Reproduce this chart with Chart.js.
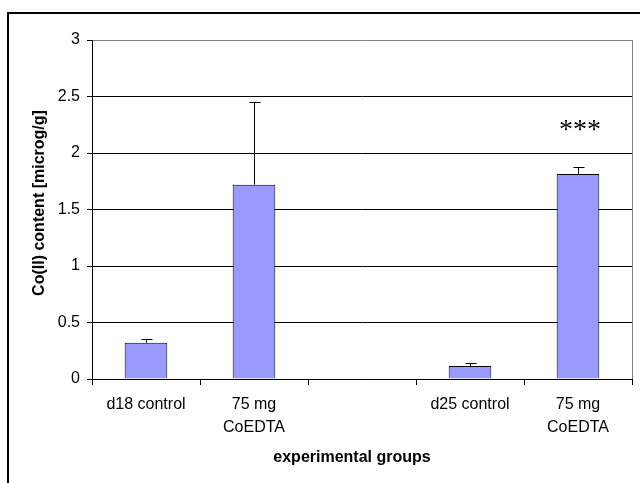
<!DOCTYPE html>
<html>
<head>
<meta charset="utf-8">
<script src="https://cdn.jsdelivr.net/npm/chart.js@4.4.1/dist/chart.umd.min.js"></script>
<style>
  html, body { margin: 0; padding: 0; background: #fff; }
  #wrap { position: relative; width: 640px; height: 483px; }
</style>
</head>
<body>
<div id="wrap"><canvas id="chart" width="640" height="483"></canvas></div>
<script>
  const categories = ["d18 control", ["75 mg", "CoEDTA"], "", "d25 control", ["75 mg", "CoEDTA"]];
  const means = [0.32, 1.72, null, 0.115, 1.815];
  const errors = [0.033, 0.73, null, 0.025, 0.06];
  const marks = ["", "", "", "", "***"];
  const markLevel = 2.2;
  const yTicks = [0, 0.5, 1, 1.5, 2, 2.5, 3];

  const FONT = "'Liberation Sans', Arial, sans-serif";

  const extras = {
    id: "extras",
    afterDatasetsDraw(chart) {
      const ctx = chart.ctx;
      const y = chart.scales.y;
      const meta = chart.getDatasetMeta(0);
      ctx.save();
      ctx.strokeStyle = "#000";
      ctx.lineWidth = 1;
      meta.data.forEach((bar, i) => {
        if (means[i] == null) {
          return;
        }
        const x = Math.round(bar.x) + 0.5;
        const y0 = y.getPixelForValue(means[i]);
        const y1 = Math.round(y.getPixelForValue(means[i] + errors[i])) + 0.5;
        ctx.beginPath();
        ctx.moveTo(x, y0);
        ctx.lineTo(x, y1);
        ctx.moveTo(x - 5, y1);
        ctx.lineTo(x + 6, y1);
        ctx.stroke();
        if (marks[i]) {
          ctx.fillStyle = "#000";
          ctx.font = "28px 'Liberation Serif', 'Times New Roman', serif";
          ctx.textAlign = "center";
          ctx.textBaseline = "middle";
          ctx.fillText(marks[i], bar.x + 2, y.getPixelForValue(markLevel));
        }
      });
      ctx.restore();
    },
    afterDraw(chart) {
      const ctx = chart.ctx;
      const a = chart.chartArea;
      ctx.save();
      // plot area edge on the right
      ctx.strokeStyle = "#808080";
      ctx.lineWidth = 1;
      ctx.beginPath();
      ctx.moveTo(Math.round(a.right) + 0.5, a.top);
      ctx.lineTo(Math.round(a.right) + 0.5, a.bottom);
      ctx.stroke();
      // outer chart frame
      ctx.strokeStyle = "#000";
      ctx.lineWidth = 2;
      ctx.beginPath();
      ctx.moveTo(8, 483);
      ctx.lineTo(8, 13);
      ctx.lineTo(640, 13);
      ctx.stroke();
      // axis titles
      ctx.fillStyle = "#000";
      ctx.font = "bold 16px " + FONT;
      ctx.textAlign = "center";
      ctx.textBaseline = "middle";
      ctx.fillText("experimental groups", 352, 458);
      ctx.translate(40, 203);
      ctx.rotate(-Math.PI / 2);
      ctx.fillText("Co(II) content [microg/g]", 0, 0);
      ctx.restore();
    }
  };

  new Chart(document.getElementById("chart"), {
    type: "bar",
    data: {
      labels: categories,
      datasets: [
        {
          data: means,
          backgroundColor: "#9999ff",
          borderColor: "#000",
          borderWidth: 1,
          barPercentage: 0.395,
          categoryPercentage: 1,
        },
      ],
    },
    options: {
      responsive: false,
      animation: false,
      layout: { padding: { left: 0, top: 40, right: 8, bottom: 0 } },
      plugins: {
        legend: { display: false },
        tooltip: { enabled: false },
      },
      scales: {
        x: {
          afterFit: (scale) => { scale.height = 104; },
          grid: {
            offset: true,
            drawOnChartArea: false,
            drawTicks: true,
            tickLength: 6,
            color: "#000",
          },
          border: { color: "#000", width: 1 },
          ticks: {
            color: "#000",
            padding: 8,
            maxRotation: 0,
            autoSkip: false,
            font: { family: FONT, size: 16, lineHeight: 1.44 },
          },
        },
        y: {
          min: 0,
          max: 3,
          afterFit: (scale) => { scale.width = 92; },
          afterBuildTicks: (scale) => {
            scale.ticks = yTicks.map((v) => ({ value: v }));
          },
          grid: {
            color: (c) => (c.tick && c.tick.value === 3 ? "#808080" : "#000"),
            tickColor: "#000",
            tickLength: 5,
            lineWidth: 1,
          },
          border: { color: "#000", width: 1 },
          ticks: {
            color: "#000",
            padding: 7,
            font: { family: FONT, size: 16 },
            callback: (v) => String(v),
          },
        },
      },
    },
    plugins: [extras],
  });
</script>
</body>
</html>
